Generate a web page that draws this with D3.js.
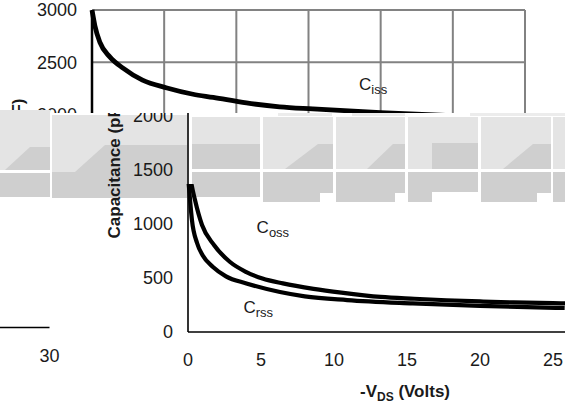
<!DOCTYPE html>
<html>
<head>
<meta charset="utf-8">
<script src="https://cdn.jsdelivr.net/npm/d3@7"></script>
<style>
  html, body { margin: 0; padding: 0; background: #fff; }
  svg { display: block; }
  text { font-family: "Liberation Sans", Arial, sans-serif; fill: #1a1a1a; }
</style>
</head>
<body>
<svg id="chart" width="565" height="403"></svg>
<script>
// Drain-source voltage ticks (V) and capacitance ticks (pF)
const vTicks = [0, 5, 10, 15, 20, 25, 30];
const cTicks = [0, 500, 1000, 1500, 2000, 2500, 3000];

// Input capacitance
const cissV = [0, 0.2, 0.55, 1.25, 2.15, 3.5, 5.2, 7, 8.4, 10.7, 13, 15.3, 20, 25, 30];
const cissC = [3000, 2850, 2690, 2550, 2445, 2330, 2255, 2195, 2165, 2112, 2075, 2055, 2020, 1990, 1970];

// Output capacitance
const cossV = [0, 0.2, 0.48, 0.96, 1.78, 2.88, 4, 5.1, 6.5, 8.6, 10.5, 13.2, 15.5, 17.7, 20, 22.3, 25, 26];
const cossC = [1600, 1400, 1222, 991, 806, 648, 555, 495, 450, 400, 365, 325, 308, 294, 283, 274, 267, 265];

// Reverse transfer capacitance
const crssV = [0, 0.14, 0.27, 0.62, 1.0, 1.71, 2.6, 4, 6.3, 8, 10.9, 15.4, 20, 25.8];
const crssC = [1450, 1222, 1037, 824, 710, 602, 515, 450, 370, 330, 296, 265, 241, 222];

const curves = [
  { name: "iss", v: cissV, c: cissC, lx: 18.5, lc: 2235 },
  { name: "oss", v: cossV, c: cossC, lx: 4.7, lc: 917 },
  { name: "rss", v: crssV, c: crssC, lx: 3.8, lc: 176 }
];

const W = 565, H = 403;
const svg = d3.select("#chart");
const defs = svg.append("defs");
function clip(id, x, y, w, h) {
  defs.append("clipPath").attr("id", id)
    .append("rect").attr("x", x).attr("y", y).attr("width", w).attr("height", h);
}
clip("clipTop", 0, 0, W, 113);
clip("clipBottom", 0, 113, W, H - 113);
clip("clipCurves", 0, 184, W, H - 184);
clip("clipWrap", 0, 203, 70, H - 203);

const FONT = 18;

function drawChart(g, x, y, opts) {
  const x0 = x(0), y0 = y(0);
  if (opts.grid) {
    g.append("g").selectAll("line.h").data(cTicks.filter(d => d > 0)).join("line")
      .attr("x1", x0).attr("x2", x(30)).attr("y1", d => y(d)).attr("y2", d => y(d))
      .attr("stroke", "#828282").attr("stroke-width", 2);
    g.append("g").selectAll("line.v").data(vTicks.filter(d => d > 0)).join("line")
      .attr("x1", d => x(d)).attr("x2", d => x(d)).attr("y1", y(3000)).attr("y2", y0)
      .attr("stroke", "#828282").attr("stroke-width", 2);
  }
  // axes
  g.append("line").attr("x1", x0).attr("x2", x0).attr("y1", y(3000)).attr("y2", y0)
    .attr("stroke", "#000").attr("stroke-width", opts.grid ? 2.5 : 1.6);
  g.append("line").attr("x1", x0).attr("x2", x(30)).attr("y1", y0).attr("y2", y0)
    .attr("stroke", "#000").attr("stroke-width", 1.6);

  // tick labels
  g.append("g").selectAll("text").data(cTicks).join("text")
    .attr("x", x0 - 15).attr("y", d => y(d)).attr("dy", "0.35em")
    .attr("text-anchor", "end").attr("font-size", FONT).text(d => d);
  g.append("g").selectAll("text").data(vTicks).join("text")
    .attr("x", d => x(d)).attr("y", y0 + 34)
    .attr("text-anchor", "middle").attr("font-size", FONT).text(d => d);

  // axis titles
  const xt = g.append("text").attr("x", (x0 + x(30)) / 2 - 2).attr("y", y0 + 65)
    .attr("text-anchor", "middle").attr("font-size", 17).attr("font-weight", "bold");
  xt.append("tspan").text("-V");
  xt.append("tspan").attr("font-size", 12).attr("dy", 4).text("DS");
  xt.append("tspan").attr("dy", -4).text(" (Volts)");

  g.append("text")
    .attr("transform", `translate(${x0 - 68},${(y0 + y(3000)) / 2}) rotate(-90)`)
    .attr("text-anchor", "middle").attr("font-size", 17).attr("font-weight", "bold")
    .text("Capacitance (pF)");

  // curves
  const cg = opts.curveClip ? g.append("g").attr("clip-path", opts.curveClip) : g;
  const line = d3.line().x(d => x(d[0])).y(d => y(d[1])).curve(d3.curveMonotoneX);
  cg.selectAll("path.curve").data(curves).join("path")
    .attr("d", d => line(d.v.map((v, i) => [v, d.c[i]])))
    .attr("fill", "none").attr("stroke", "#000").attr("stroke-width", opts.grid ? 4.8 : 4.2)
    .attr("stroke-linejoin", "round");

  // curve labels
  const lab = g.append("g").selectAll("text").data(curves).join("text")
    .attr("x", d => x(d.lx)).attr("y", d => y(d.lc)).attr("font-size", 17);
  lab.append("tspan").text("C");
  lab.append("tspan").attr("font-size", 13).attr("dy", 4).text(d => d.name);
}

// upper view of the chart, with grid
const topG = svg.append("g").attr("clip-path", "url(#clipTop)");
drawChart(topG,
  d3.scaleLinear().domain([0, 30]).range([92, 525]),
  d3.scaleLinear().domain([0, 3000]).range([324, 10]),
  { grid: true });

// banded tiles across the middle
const LIGHT = "#e4e4e4", DARK = "#cfcfcf";
const band = svg.append("g");
const tiles = [
  { x0: 0, x1: 50, top: 110, rampTop: [30, 147], rampBot: [5, 170], split: 170, bottom: 197 },
  { x0: 52, x1: 187, top: 115, rampTop: [105, 145], rampBot: [75, 172], split: 172, bottom: 198, noLine: true },
  { x0: 192, x1: 260, top: 117, rampTop: [192, 144], rampBot: [192, 169], split: 169, bottom: 197 },
  { x0: 263, x1: 333, top: 117, rampTop: [318, 144], rampBot: [285, 169], split: 169, bottom: 202, notch: 320 },
  { x0: 336, x1: 405, top: 117, rampTop: [393, 144], rampBot: [367, 169], split: 169, bottom: 202, notch: 395 },
  { x0: 408, x1: 478, top: 117, rampTop: [432, 143], rampBot: [432, 169], split: 169, bottom: 202, notchLeft: 432 },
  { x0: 481, x1: 551, top: 117, rampTop: [533, 144], rampBot: [503, 169], split: 169, bottom: 202, notch: 537 },
  { x0: 553, x1: 565, top: 117, rampTop: [565, 144], rampBot: [565, 169], split: 169, bottom: 202 }
];
tiles.forEach(t => {
  band.append("rect").attr("x", t.x0).attr("y", t.top).attr("width", t.x1 - t.x0)
    .attr("height", t.split - t.top).attr("fill", LIGHT);
  band.append("polygon")
    .attr("points", [t.rampTop, [t.x1, t.rampTop[1]], [t.x1, t.rampBot[1]], t.rampBot].map(p => p.join(",")).join(" "))
    .attr("fill", DARK);
  const lowerTop = t.noLine ? t.split : t.split + 3;
  band.append("rect").attr("x", t.x0).attr("y", lowerTop).attr("width", t.x1 - t.x0)
    .attr("height", t.bottom - lowerTop).attr("fill", DARK);
  if (t.notch) {
    band.append("rect").attr("x", t.notch).attr("y", 193).attr("width", t.x1 - t.notch)
      .attr("height", t.bottom - 193 + 1).attr("fill", "#fff");
  }
  if (t.notchLeft) {
    band.append("rect").attr("x", t.notchLeft).attr("y", 192).attr("width", t.x1 - t.notchLeft)
      .attr("height", t.bottom - 192 + 1).attr("fill", "#fff");
  }
});
[[278, 332], [352, 405], [470, 565]].forEach(s => {
  band.append("rect").attr("x", s[0]).attr("y", 113).attr("width", s[1] - s[0]).attr("height", 3)
    .attr("fill", "#ececec");
});

// lower view of the chart
const xB = d3.scaleLinear().domain([0, 30]).range([188, 626]);
const yB = d3.scaleLinear().domain([0, 3000]).range([332, 8]);
const botG = svg.append("g").attr("clip-path", "url(#clipBottom)");
drawChart(botG, xB, yB, { grid: false, curveClip: "url(#clipCurves)" });

// wrapped-around end of the lower axis
const wrapOuter = svg.append("g").attr("clip-path", "url(#clipWrap)");
const wrapG = wrapOuter.append("g").attr("transform", "translate(-576.5,-4.5)");
drawChart(wrapG, xB, yB, { grid: false });
</script>
</body>
</html>
